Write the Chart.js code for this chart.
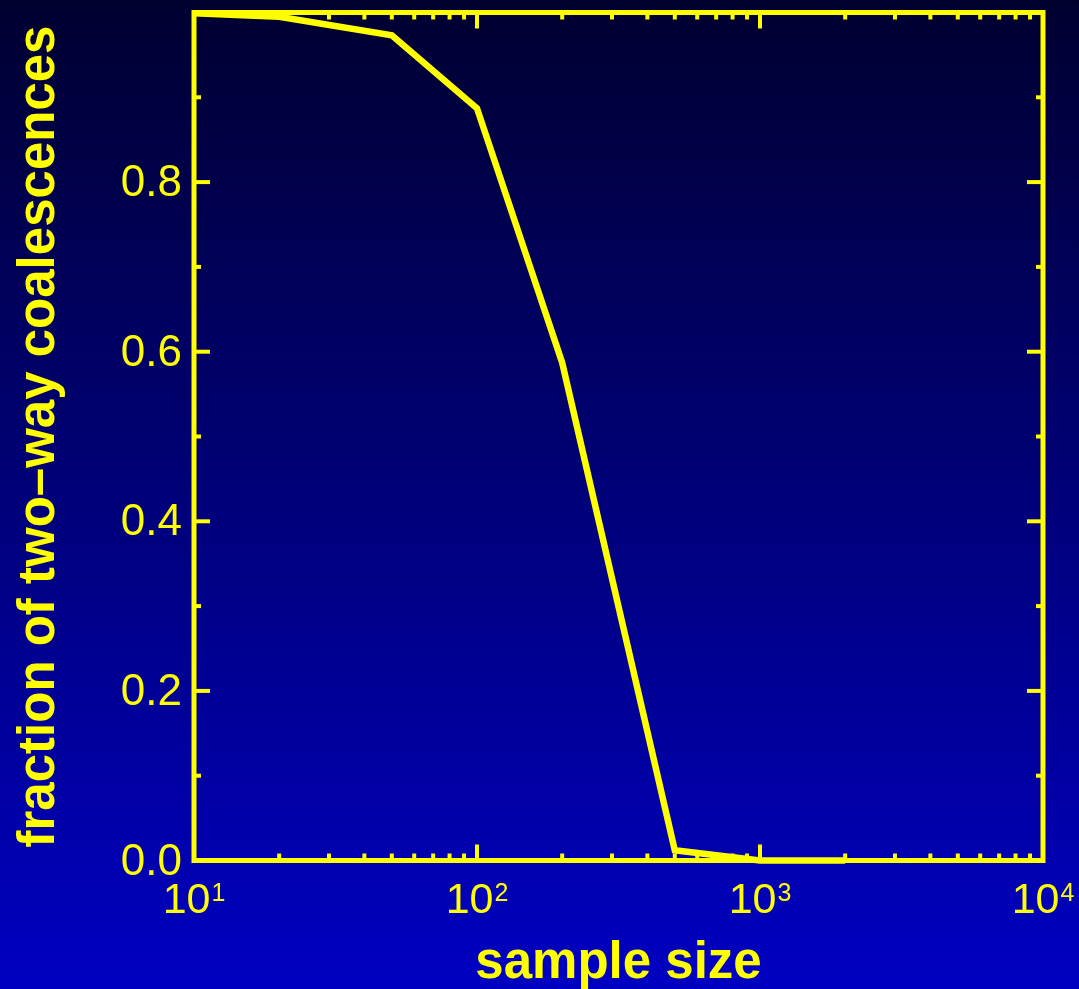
<!DOCTYPE html>
<html>
<head>
<meta charset="utf-8">
<title>fraction of two-way coalescences</title>
<script src="https://cdn.jsdelivr.net/npm/chart.js@4/dist/chart.umd.min.js"></script>
<style>
  html, body { margin: 0; padding: 0; background: #000060; overflow: hidden; }
  canvas { display: block; }
</style>
</head>
<body>
<canvas id="coalChart" width="1079" height="989"></canvas>
<script>
// sample size vs fraction of two-way coalescences
const sampleSizes = [10, 20, 50, 100, 200, 500, 1000, 2000];
const twoWayFraction = [0.999, 0.995, 0.973, 0.887, 0.587, 0.012, 0.0, 0.0];

// axis ticks
const xDecades = [10, 100, 1000, 10000];
const xDecadeExponents = ['1', '2', '3', '4'];
const yMajorTicks = [0, 0.2, 0.4, 0.6, 0.8, 1.0];
const yTickLabels = ['0.0', '0.2', '0.4', '0.6', '0.8'];
const yMinorTicks = [0.1, 0.3, 0.5, 0.7, 0.9];

const YELLOW = '#ffff00';
const FONT = '"Liberation Sans", Arial, Helvetica, sans-serif';

// minor ticks between decades: 2..9 times each decade
const xMinorTicks = [];
xDecades.slice(0, -1).forEach(d => {
    for (let m = 2; m <= 9; m++) xMinorTicks.push(d * m);
});

const backgroundPlugin = {
    id: 'bgGradient',
    beforeDraw(chart) {
        const ctx = chart.ctx;
        const g = ctx.createLinearGradient(0, 0, 0, chart.height);
        g.addColorStop(0, 'rgb(0, 0, 48)');
        g.addColorStop(1, 'rgb(0, 0, 194)');
        ctx.save();
        ctx.fillStyle = g;
        ctx.fillRect(0, 0, chart.width, chart.height);
        ctx.restore();
    }
};

const framePlugin = {
    id: 'frameAndTicks',
    afterDraw(chart) {
        const ctx = chart.ctx;
        const area = chart.chartArea;
        const xs = chart.scales.x;
        const ys = chart.scales.y;
        const major = 16, minor = 7;

        ctx.save();
        ctx.strokeStyle = YELLOW;
        ctx.fillStyle = YELLOW;
        ctx.lineWidth = 5;
        ctx.lineJoin = 'miter';
        ctx.strokeRect(area.left, area.top, area.right - area.left, area.bottom - area.top);

        ctx.lineWidth = 4;
        ctx.lineCap = 'butt';
        const tick = (x1, y1, x2, y2) => {
            ctx.beginPath();
            ctx.moveTo(x1, y1);
            ctx.lineTo(x2, y2);
            ctx.stroke();
        };

        // x ticks, bottom and top, pointing inward
        xDecades.forEach(v => {
            const px = xs.getPixelForValue(v);
            tick(px, area.bottom, px, area.bottom - major);
            tick(px, area.top, px, area.top + major);
        });
        xMinorTicks.forEach(v => {
            const px = xs.getPixelForValue(v);
            tick(px, area.bottom, px, area.bottom - minor);
            tick(px, area.top, px, area.top + minor);
        });

        // y ticks, left and right
        yMajorTicks.forEach(v => {
            const py = ys.getPixelForValue(v);
            tick(area.left, py, area.left + major, py);
            tick(area.right, py, area.right - major, py);
        });
        yMinorTicks.forEach(v => {
            const py = ys.getPixelForValue(v);
            tick(area.left, py, area.left + minor, py);
            tick(area.right, py, area.right - minor, py);
        });

        // y tick labels
        ctx.font = '44px ' + FONT;
        ctx.textAlign = 'right';
        ctx.textBaseline = 'alphabetic';
        yTickLabels.forEach((lab, i) => {
            const py = ys.getPixelForValue(yMajorTicks[i]);
            ctx.fillText(lab, 182, py + 14);
        });

        // x tick labels as 10 with superscript exponent
        xDecades.forEach((v, i) => {
            const px = xs.getPixelForValue(v);
            ctx.font = '43px ' + FONT;
            const baseW = ctx.measureText('10').width;
            ctx.font = '25px ' + FONT;
            const supW = ctx.measureText(xDecadeExponents[i]).width;
            const start = px - (baseW + supW + 1) / 2;
            ctx.textAlign = 'left';
            ctx.font = '43px ' + FONT;
            ctx.fillText('10', start, 913);
            ctx.font = '25px ' + FONT;
            ctx.fillText(xDecadeExponents[i], start + baseW + 1, 901);
        });

        // axis titles
        ctx.font = 'bold 51px ' + FONT;
        ctx.textAlign = 'center';
        ctx.fillText('sample size', (area.left + area.right) / 2, 978);

        ctx.translate(54, (area.top + area.bottom) / 2);
        ctx.rotate(-Math.PI / 2);
        ctx.fillText('fraction of two\u2013way coalescences', 0, 0);
        ctx.restore();
    }
};

const ctx = document.getElementById('coalChart').getContext('2d');
new Chart(ctx, {
    type: 'line',
    data: {
        datasets: [{
            data: sampleSizes.map((s, i) => ({ x: s, y: twoWayFraction[i] })),
            borderColor: YELLOW,
            borderWidth: 6.5,
            pointRadius: 0,
            tension: 0,
            fill: false,
            clip: false
        }]
    },
    options: {
        responsive: false,
        devicePixelRatio: 1,
        animation: false,
        layout: {
            padding: { left: 194, right: 36, top: 12.5, bottom: 128.5 }
        },
        plugins: {
            legend: { display: false },
            tooltip: { enabled: false }
        },
        scales: {
            x: { type: 'logarithmic', min: 10, max: 10000, display: false },
            y: { type: 'linear', min: 0, max: 1, display: false }
        }
    },
    plugins: [backgroundPlugin, framePlugin]
});
</script>
</body>
</html>
